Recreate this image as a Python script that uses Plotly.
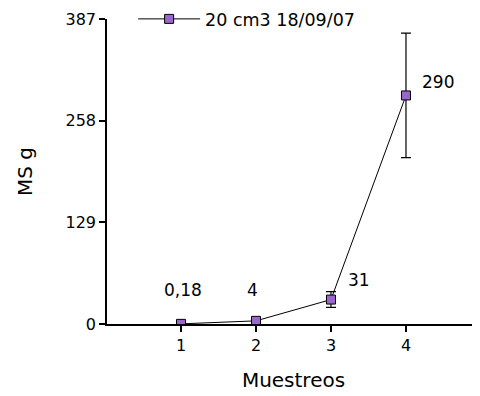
import plotly.graph_objects as go

muestreos = [1, 2, 3, 4]
ms_g = [0.18, 4, 31, 290]
err = [0, 1, 10, 79]
labels = ["0,18", "4", "31", "290"]
label_dx = [2, -4, 28, 32]
label_dy = [34, 31, 20, 13]
y_ticks = [0, 129, 258, 387]
x_ticks = [1, 2, 3, 4]

FONT = "DejaVu Sans, Verdana, sans-serif"

fig = go.Figure()
fig.add_trace(go.Scatter(
    x=muestreos, y=ms_g, mode="lines+markers", name="20 cm3 18/09/07",
    line=dict(color="black", width=1),
    marker=dict(symbol="square", size=9, color="#9966CC", line=dict(color="black", width=1)),
    error_y=dict(type="data", array=err, visible=True, color="black", thickness=1.2, width=5),
))
for x, y, t, dx, dy in zip(muestreos, ms_g, labels, label_dx, label_dy):
    fig.add_annotation(x=x, y=y, text=t, showarrow=False, xshift=dx, yshift=dy,
                       font=dict(size=17, color="black", family=FONT))

fig.update_layout(
    width=472, height=388,
    margin=dict(l=99, r=0, t=11, b=72, autoexpand=False),
    paper_bgcolor="white", plot_bgcolor="white",
    font=dict(family=FONT, size=16, color="black"),
    showlegend=True,
    legend=dict(x=0.07, y=1.0, xanchor="left", yanchor="middle", bgcolor="rgba(0,0,0,0)",
                itemwidth=62, font=dict(size=17.5, family=FONT)),
    xaxis=dict(range=[0.013, 4.987], tickvals=x_ticks, showgrid=False, zeroline=False,
               showline=True, linecolor="black", linewidth=1.5, ticks="outside", ticklen=6,
               tickcolor="black", tickwidth=1.5,
               title=dict(text="Muestreos", standoff=19, font=dict(size=20))),
    yaxis=dict(range=[0, 387], tickvals=y_ticks, showgrid=False, zeroline=False,
               showline=True, linecolor="black", linewidth=1.5, ticks="outside", ticklen=6,
               tickcolor="black", tickwidth=1.5,
               title=dict(text="MS g", standoff=28, font=dict(size=20))),
)
fig.write_html("out.html")
